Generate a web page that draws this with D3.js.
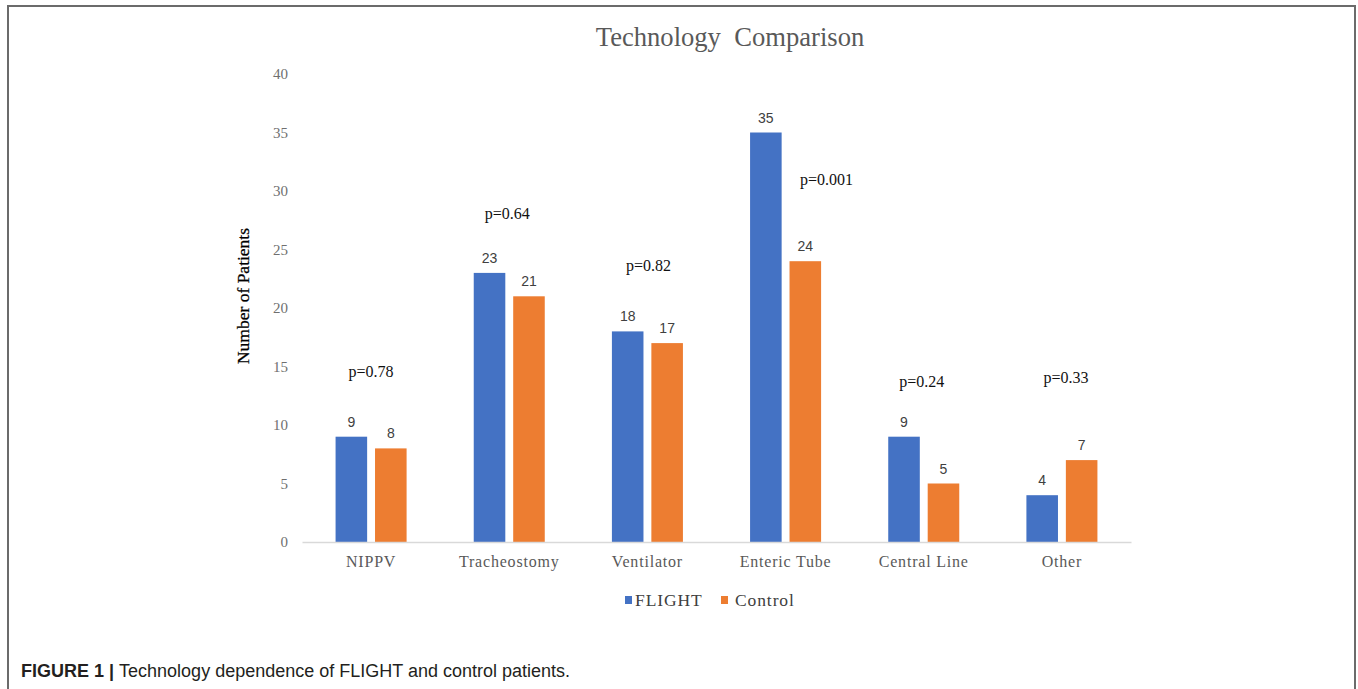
<!DOCTYPE html>
<html>
<head>
<meta charset="utf-8">
<script src="https://cdn.jsdelivr.net/npm/d3@7"></script>
<style>
  html, body { margin: 0; padding: 0; background: #fff; }
  svg { display: block; }
</style>
</head>
<body>
<svg id="chart" width="1358" height="689"></svg>
<script>
// ---- data ----
const categories = ["NIPPV", "Tracheostomy", "Ventilator", "Enteric Tube", "Central Line", "Other"];
const seriesNames = ["FLIGHT", "Control"];
const flightValues = [9, 23, 18, 35, 9, 4];
const controlValues = [8, 21, 17, 24, 5, 7];
const pLabels = ["p=0.78", "p=0.64", "p=0.82", "p=0.001", "p=0.24", "p=0.33"];
const pLevels = [14.6, 28.1, 23.6, 31.0, 13.7, 14.1];
const yTicks = [0, 5, 10, 15, 20, 25, 30, 35, 40];

// ---- styles / layout ----
const colors = ["#4472C4", "#ED7D31"];
const serif = "'Liberation Serif', 'Times New Roman', serif";
const sans = "'Liberation Sans', Arial, sans-serif";
const pDx = [0, -2, 1, 41, -2, 4];

const svg = d3.select("#chart");

// frame
svg.append("path")
  .attr("d", "M8,689 L8,6 L1355,6 L1355,689")
  .attr("fill", "none").attr("stroke", "#6b6b6b").attr("stroke-width", 2);

const x0 = d3.scaleBand().domain(categories).range([302, 1131])
  .paddingInner(0.486).paddingOuter(0.243);
const x1 = d3.scaleBand().domain(seriesNames).range([0, x0.bandwidth()])
  .paddingInner(0.2);
const y = d3.scaleLinear().domain([0, 40]).range([542, 74]);

// title
svg.append("text").attr("x", 730).attr("y", 46)
  .attr("text-anchor", "middle").style("white-space", "pre")
  .attr("font-family", serif).attr("font-size", 26.6).attr("fill", "#595959")
  .text("Technology  Comparison");

// y axis
const yAxis = svg.append("g").attr("transform", "translate(302,0)")
  .call(d3.axisLeft(y).tickValues(yTicks).tickSize(0).tickPadding(14));
yAxis.select(".domain").remove();
yAxis.selectAll("text").attr("font-family", serif).attr("font-size", 15).attr("fill", "#6f6f6f");

// y title
svg.append("text").attr("transform", "translate(249,296) rotate(-90)")
  .attr("text-anchor", "middle")
  .attr("font-family", serif).attr("font-size", 17.5).attr("fill", "#000")
  .attr("stroke", "#000").attr("stroke-width", 0.25)
  .text("Number of Patients");

// bars
const rows = categories.map((c, i) => ({ cat: c, vals: [flightValues[i], controlValues[i]] }));
const groups = svg.append("g").selectAll("g").data(rows).join("g")
  .attr("transform", d => `translate(${x0(d.cat)},0)`);
groups.selectAll("rect").data(d => d.vals.map((v, j) => ({ s: seriesNames[j], v, j })))
  .join("rect")
  .attr("x", d => x1(d.s)).attr("width", x1.bandwidth())
  .attr("y", d => y(d.v)).attr("height", d => y(0) - y(d.v))
  .attr("fill", d => colors[d.j]);
groups.selectAll("text.val").data(d => d.vals.map((v, j) => ({ s: seriesNames[j], v, j })))
  .join("text").attr("class", "val")
  .attr("x", d => x1(d.s) + x1.bandwidth() / 2).attr("y", d => y(d.v) - 10)
  .attr("text-anchor", "middle")
  .attr("font-family", sans).attr("font-size", 14).attr("fill", "#404040")
  .text(d => d.v);

// x axis
const xAxis = svg.append("g").attr("transform", "translate(0,542)")
  .call(d3.axisBottom(x0).tickSize(0).tickPadding(14));
xAxis.select(".domain").attr("stroke", "#d9d9d9").attr("stroke-width", 1.5);
xAxis.selectAll("text").attr("font-family", serif).attr("font-size", 16)
  .attr("fill", "#595959").attr("letter-spacing", "0.8px");

// p-values
svg.append("g").selectAll("text").data(categories).join("text")
  .attr("x", (c, i) => x0(c) + x0.bandwidth() / 2 + pDx[i])
  .attr("y", (c, i) => y(pLevels[i]))
  .attr("dominant-baseline", "central").attr("text-anchor", "middle")
  .attr("font-family", serif).attr("font-size", 16).attr("fill", "#111")
  .text((c, i) => pLabels[i]);

// legend
const legend = svg.append("g");
const legendX = [625, 721];
const legendTextX = [635, 735];
seriesNames.forEach((s, i) => {
  legend.append("rect").attr("x", legendX[i]).attr("y", 596).attr("width", 7).attr("height", 8)
    .attr("fill", colors[i]);
  legend.append("text").attr("x", legendTextX[i]).attr("y", 600)
    .attr("dominant-baseline", "central")
    .attr("font-family", serif).attr("font-size", 17.5).attr("fill", "#404040")
    .attr("letter-spacing", "0.9px")
    .text(s);
});

// caption
const cap = svg.append("text").attr("x", 21).attr("y", 677)
  .attr("font-family", sans).attr("font-size", 18).attr("fill", "#231f20");
cap.append("tspan").attr("font-weight", "bold").text("FIGURE 1 | ");
cap.append("tspan").text("Technology dependence of FLIGHT and control patients.");
</script>
</body>
</html>
